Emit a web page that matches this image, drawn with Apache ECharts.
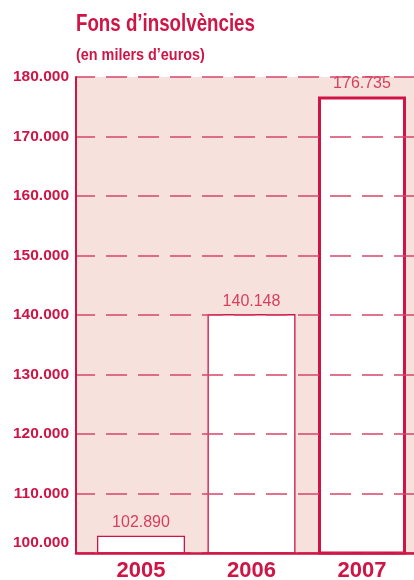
<!DOCTYPE html>
<html><head><meta charset="utf-8">
<script src="https://cdn.jsdelivr.net/npm/echarts@6/dist/echarts.min.js"></script>
<style>html,body{margin:0;padding:0;background:#fff}#c{width:414px;height:580px}</style>
</head><body><div id="c"></div>
<script>
const categories = ['2005', '2006', '2007'];
const values = [102890, 140148, 176735];
const yTicks = [100000, 110000, 120000, 130000, 140000, 150000, 160000, 170000, 180000];
const titleText = 'Fons d\u2019insolvències';
const subtitleText = '(en milers d\u2019euros)';

const RED = '#cf1446';
const LIGHT = '#d6405e';
const PINK = '#f6e1dd';
const FONT = '"Liberation Sans", Arial, sans-serif';
const fmt = v => String(v).replace(/\B(?=(\d{3})+(?!\d))/g, '.');

const chart = echarts.init(document.getElementById('c'), null, {renderer: 'canvas'});
chart.setOption({
  animation: false,
  graphic: [
    {type: 'text', left: 76, top: 12, scaleX: 0.78, originX: 0,
     style: {text: titleText, fill: RED, font: 'bold 24px "Liberation Sans", Arial, sans-serif'}},
    {type: 'text', left: 76, top: 48, scaleX: 0.9, originX: 0,
     style: {text: subtitleText, fill: RED, font: 'bold 16px "Liberation Sans", Arial, sans-serif'}}
  ],
  grid: [
    {left: 76, right: 0, top: 77, bottom: 27, show: true, backgroundColor: PINK, borderWidth: 0,
     containLabel: false, outerBoundsMode: 'none'},
    {left: 85.75, width: 331.5, top: 77, bottom: 27, containLabel: false, outerBoundsMode: 'none'}
  ],
  xAxis: [
    {gridIndex: 0, type: 'category', data: [''], z: 5,
     axisLine: {show: true, lineStyle: {color: RED, width: 2.5}},
     axisTick: {show: false}, axisLabel: {show: false}, splitLine: {show: false}},
    {gridIndex: 1, type: 'category', data: categories,
     axisLine: {show: false}, axisTick: {show: false},
     axisLabel: {margin: 7, fontFamily: FONT, fontSize: 22, fontWeight: 'bold', color: RED}}
  ],
  yAxis: [
    {gridIndex: 0, type: 'value', min: yTicks[0], max: yTicks[yTicks.length - 1], interval: 10000, z: 5,
     axisLine: {show: true, lineStyle: {color: RED, width: 2}},
     axisTick: {show: false},
     axisLabel: {margin: 7, fontFamily: FONT, fontSize: 15.5, fontWeight: 'bold', color: RED,
       formatter: v => v === yTicks[0] ? '{lo|' + fmt(v) + '}' : fmt(v),
       rich: {lo: {fontFamily: FONT, fontSize: 15.5, fontWeight: 'bold', color: RED, padding: [0, 0, 20, 0]}}},
     splitLine: {show: true, lineStyle: {color: '#d8456a', width: 1.5, type: [21, 11], dashOffset: 2}}},
    {gridIndex: 1, type: 'value', min: yTicks[0], max: yTicks[yTicks.length - 1], interval: 10000, show: false,
     splitLine: {show: false}}
  ],
  series: [{
    type: 'bar', xAxisIndex: 1, yAxisIndex: 1, barWidth: 88,
    data: values.map((v, i) => ({value: v, itemStyle: {color: '#fff', borderColor: RED, borderWidth: i === 2 ? 3 : 1.3}})),
    label: {show: true, position: 'top', distance: 5, fontFamily: FONT, fontSize: 16, color: LIGHT, formatter: p => fmt(p.value)}
  }]
});
</script></body></html>
